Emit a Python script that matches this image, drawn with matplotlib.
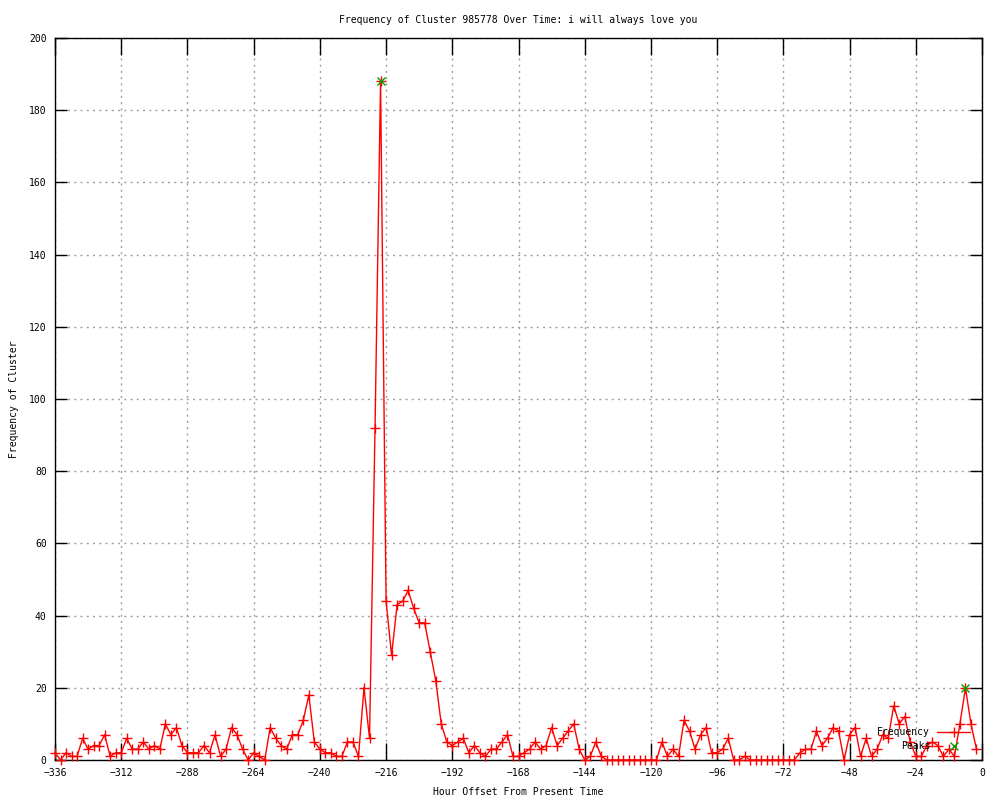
import numpy as np
import matplotlib
matplotlib.use("Agg")
import matplotlib.pyplot as plt
from matplotlib.lines import Line2D

plt.rcParams['font.family'] = ['DejaVu Sans Mono']
plt.rcParams['font.size'] = 7

# Data: one sample every 2 hours
hours = list(range(-336, 0, 2))
frequency = [
    2, 0, 2, 1, 1, 6, 3, 4, 4, 7, 1, 2, 2, 6, 3, 3, 5, 3, 4, 3,
    10, 7, 9, 4, 2, 2, 2, 4, 2, 7, 1, 3, 9, 7, 3, 0, 2, 1, 0, 9,
    6, 4, 3, 7, 7, 11, 18, 5, 3, 2, 2, 1, 1, 5, 5, 1, 20, 6, 92, 188,
    44, 29, 43, 44, 47, 42, 38, 38, 30, 22, 10, 5, 4, 5, 6, 2, 4, 2, 1, 3,
    3, 5, 7, 1, 1, 2, 3, 5, 3, 4, 9, 4, 6, 8, 10, 3, 0, 1, 5, 1,
    0, 0, 0, 0, 0, 0, 0, 0, 0, 0, 5, 1, 3, 1, 11, 8, 3, 7, 9, 2,
    2, 3, 6, 0, 0, 1, 0, 0, 0, 0, 0, 0, 0, 0, 0, 2, 3, 3, 8, 4,
    6, 9, 8, 0, 7, 9, 1, 6, 1, 3, 7, 6, 15, 10, 12, 5, 1, 1, 4, 5,
    4, 1, 3, 1, 10, 20, 10, 3,
]
peak_hours = [-218, -6]
peak_values = [188, 20]

fig = plt.figure(figsize=(10, 8), dpi=100)
ax = fig.add_axes([0.055, 0.05, 0.927, 0.9025])

ax.plot(hours, frequency, color='red', linewidth=1, marker='+',
        markersize=7, markeredgewidth=1, clip_on=False, zorder=3)
ax.plot(peak_hours, peak_values, linestyle='none', color='#00a000',
        marker='x', markersize=6, markeredgewidth=1, clip_on=False, zorder=4)

ax.set_xlim(-336, 0)
ax.set_ylim(0, 200)
ax.set_xticks(np.arange(-336, 1, 24))
ax.set_yticks(np.arange(0, 201, 20))
ax.tick_params(axis='x', direction='in', length=12, width=1,
               top=True, pad=6)
ax.tick_params(axis='y', direction='in', length=8.5, width=1,
               right=True, pad=6)
ax.grid(True, color='#a0a0a0', linestyle=(0, (1.5, 3)), linewidth=1)
for s in ax.spines.values():
    s.set_linewidth(1)
    s.set_color('black')

ax.set_title('Frequency of Cluster 985778 Over Time: i will always love you',
             fontsize=7, pad=11)
ax.set_xlabel('Hour Offset From Present Time', labelpad=6)
ax.set_ylabel('Frequency of Cluster')
ax.yaxis.set_label_coords(-0.039, 0.5)

# gnuplot-style key, right-justified text
fig.text(0.93, 0.085, 'Frequency', ha='right', va='center')
fig.text(0.93, 0.0675, 'Peaks', ha='right', va='center')
fig.add_artist(Line2D([0.937, 0.970], [0.085, 0.085], color='red',
                      linewidth=1, transform=fig.transFigure))
fig.add_artist(Line2D([0.9535], [0.085], color='red', marker='+',
                      markersize=7, transform=fig.transFigure))
fig.add_artist(Line2D([0.9535], [0.0675], color='#00a000', marker='x',
                      markersize=6, linestyle='none',
                      transform=fig.transFigure))

fig.savefig('out.png', dpi=100)
